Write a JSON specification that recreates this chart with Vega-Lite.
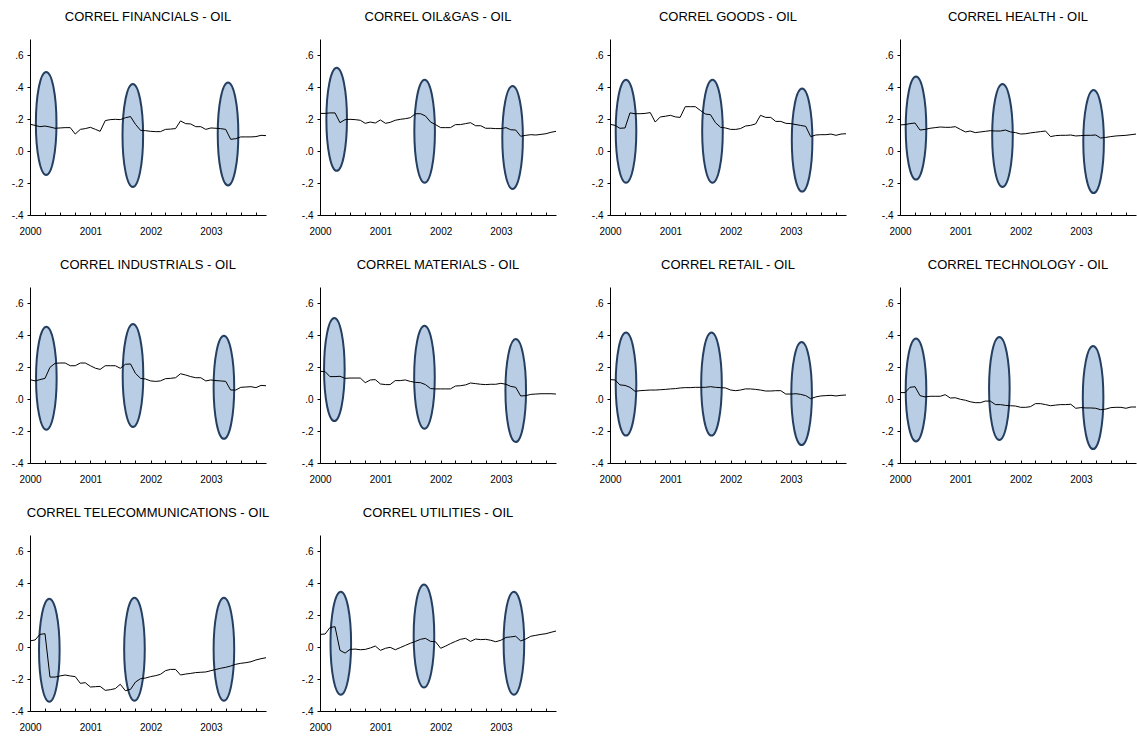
{
"$schema": "https://vega.github.io/schema/vega-lite/v6.json",
"padding": {"left": 11, "top": 11, "right": 0, "bottom": 0},
"bounds": "flush",
"data": {"format": {"parse": {"d": "utc:'%Y-%m-%d'"}}, "values": [
{"s":"FINANCIALS","d":"2000-01-01","v":0.167},{"s":"FINANCIALS","d":"2000-02-01","v":0.16},{"s":"FINANCIALS","d":"2000-03-01","v":0.152},{"s":"FINANCIALS","d":"2000-04-01","v":0.156},{"s":"FINANCIALS","d":"2000-05-01","v":0.15},{"s":"FINANCIALS","d":"2000-06-01","v":0.142},{"s":"FINANCIALS","d":"2000-07-01","v":0.144},{"s":"FINANCIALS","d":"2000-08-01","v":0.146},{"s":"FINANCIALS","d":"2000-09-01","v":0.146},{"s":"FINANCIALS","d":"2000-10-01","v":0.106},{"s":"FINANCIALS","d":"2000-11-01","v":0.135},{"s":"FINANCIALS","d":"2000-12-01","v":0.14},
{"s":"FINANCIALS","d":"2001-01-01","v":0.148},{"s":"FINANCIALS","d":"2001-02-01","v":0.135},{"s":"FINANCIALS","d":"2001-03-01","v":0.123},{"s":"FINANCIALS","d":"2001-04-01","v":0.19},{"s":"FINANCIALS","d":"2001-05-01","v":0.196},{"s":"FINANCIALS","d":"2001-06-01","v":0.198},{"s":"FINANCIALS","d":"2001-07-01","v":0.196},{"s":"FINANCIALS","d":"2001-08-01","v":0.208},{"s":"FINANCIALS","d":"2001-09-01","v":0.215},{"s":"FINANCIALS","d":"2001-10-01","v":0.167},{"s":"FINANCIALS","d":"2001-11-01","v":0.129},{"s":"FINANCIALS","d":"2001-12-01","v":0.127},
{"s":"FINANCIALS","d":"2002-01-01","v":0.123},{"s":"FINANCIALS","d":"2002-02-01","v":0.121},{"s":"FINANCIALS","d":"2002-03-01","v":0.121},{"s":"FINANCIALS","d":"2002-04-01","v":0.135},{"s":"FINANCIALS","d":"2002-05-01","v":0.137},{"s":"FINANCIALS","d":"2002-06-01","v":0.14},{"s":"FINANCIALS","d":"2002-07-01","v":0.188},{"s":"FINANCIALS","d":"2002-08-01","v":0.171},{"s":"FINANCIALS","d":"2002-09-01","v":0.169},{"s":"FINANCIALS","d":"2002-10-01","v":0.152},{"s":"FINANCIALS","d":"2002-11-01","v":0.152},{"s":"FINANCIALS","d":"2002-12-01","v":0.135},
{"s":"FINANCIALS","d":"2003-01-01","v":0.144},{"s":"FINANCIALS","d":"2003-02-01","v":0.142},{"s":"FINANCIALS","d":"2003-03-01","v":0.14},{"s":"FINANCIALS","d":"2003-04-01","v":0.135},{"s":"FINANCIALS","d":"2003-05-01","v":0.073},{"s":"FINANCIALS","d":"2003-06-01","v":0.077},{"s":"FINANCIALS","d":"2003-07-01","v":0.088},{"s":"FINANCIALS","d":"2003-08-01","v":0.088},{"s":"FINANCIALS","d":"2003-09-01","v":0.088},{"s":"FINANCIALS","d":"2003-10-01","v":0.09},{"s":"FINANCIALS","d":"2003-11-01","v":0.098},{"s":"FINANCIALS","d":"2003-12-01","v":0.096},

{"s":"OIL&GAS","d":"2000-01-01","v":0.235},{"s":"OIL&GAS","d":"2000-02-01","v":0.235},{"s":"OIL&GAS","d":"2000-03-01","v":0.238},{"s":"OIL&GAS","d":"2000-04-01","v":0.238},{"s":"OIL&GAS","d":"2000-05-01","v":0.177},{"s":"OIL&GAS","d":"2000-06-01","v":0.196},{"s":"OIL&GAS","d":"2000-07-01","v":0.198},{"s":"OIL&GAS","d":"2000-08-01","v":0.196},{"s":"OIL&GAS","d":"2000-09-01","v":0.192},{"s":"OIL&GAS","d":"2000-10-01","v":0.173},{"s":"OIL&GAS","d":"2000-11-01","v":0.181},{"s":"OIL&GAS","d":"2000-12-01","v":0.175},
{"s":"OIL&GAS","d":"2001-01-01","v":0.194},{"s":"OIL&GAS","d":"2001-02-01","v":0.173},{"s":"OIL&GAS","d":"2001-03-01","v":0.179},{"s":"OIL&GAS","d":"2001-04-01","v":0.192},{"s":"OIL&GAS","d":"2001-05-01","v":0.198},{"s":"OIL&GAS","d":"2001-06-01","v":0.202},{"s":"OIL&GAS","d":"2001-07-01","v":0.208},{"s":"OIL&GAS","d":"2001-08-01","v":0.233},{"s":"OIL&GAS","d":"2001-09-01","v":0.233},{"s":"OIL&GAS","d":"2001-10-01","v":0.219},{"s":"OIL&GAS","d":"2001-11-01","v":0.181},{"s":"OIL&GAS","d":"2001-12-01","v":0.165},
{"s":"OIL&GAS","d":"2002-01-01","v":0.146},{"s":"OIL&GAS","d":"2002-02-01","v":0.146},{"s":"OIL&GAS","d":"2002-03-01","v":0.146},{"s":"OIL&GAS","d":"2002-04-01","v":0.165},{"s":"OIL&GAS","d":"2002-05-01","v":0.165},{"s":"OIL&GAS","d":"2002-06-01","v":0.171},{"s":"OIL&GAS","d":"2002-07-01","v":0.177},{"s":"OIL&GAS","d":"2002-08-01","v":0.158},{"s":"OIL&GAS","d":"2002-09-01","v":0.158},{"s":"OIL&GAS","d":"2002-10-01","v":0.142},{"s":"OIL&GAS","d":"2002-11-01","v":0.142},{"s":"OIL&GAS","d":"2002-12-01","v":0.14},
{"s":"OIL&GAS","d":"2003-01-01","v":0.14},{"s":"OIL&GAS","d":"2003-02-01","v":0.146},{"s":"OIL&GAS","d":"2003-03-01","v":0.133},{"s":"OIL&GAS","d":"2003-04-01","v":0.131},{"s":"OIL&GAS","d":"2003-05-01","v":0.092},{"s":"OIL&GAS","d":"2003-06-01","v":0.098},{"s":"OIL&GAS","d":"2003-07-01","v":0.102},{"s":"OIL&GAS","d":"2003-08-01","v":0.1},{"s":"OIL&GAS","d":"2003-09-01","v":0.104},{"s":"OIL&GAS","d":"2003-10-01","v":0.108},{"s":"OIL&GAS","d":"2003-11-01","v":0.117},{"s":"OIL&GAS","d":"2003-12-01","v":0.123},

{"s":"GOODS","d":"2000-01-01","v":0.167},{"s":"GOODS","d":"2000-02-01","v":0.16},{"s":"GOODS","d":"2000-03-01","v":0.142},{"s":"GOODS","d":"2000-04-01","v":0.144},{"s":"GOODS","d":"2000-05-01","v":0.238},{"s":"GOODS","d":"2000-06-01","v":0.233},{"s":"GOODS","d":"2000-07-01","v":0.233},{"s":"GOODS","d":"2000-08-01","v":0.235},{"s":"GOODS","d":"2000-09-01","v":0.24},{"s":"GOODS","d":"2000-10-01","v":0.181},{"s":"GOODS","d":"2000-11-01","v":0.213},{"s":"GOODS","d":"2000-12-01","v":0.217},
{"s":"GOODS","d":"2001-01-01","v":0.223},{"s":"GOODS","d":"2001-02-01","v":0.213},{"s":"GOODS","d":"2001-03-01","v":0.21},{"s":"GOODS","d":"2001-04-01","v":0.277},{"s":"GOODS","d":"2001-05-01","v":0.277},{"s":"GOODS","d":"2001-06-01","v":0.277},{"s":"GOODS","d":"2001-07-01","v":0.254},{"s":"GOODS","d":"2001-08-01","v":0.231},{"s":"GOODS","d":"2001-09-01","v":0.227},{"s":"GOODS","d":"2001-10-01","v":0.177},{"s":"GOODS","d":"2001-11-01","v":0.148},{"s":"GOODS","d":"2001-12-01","v":0.144},
{"s":"GOODS","d":"2002-01-01","v":0.135},{"s":"GOODS","d":"2002-02-01","v":0.135},{"s":"GOODS","d":"2002-03-01","v":0.14},{"s":"GOODS","d":"2002-04-01","v":0.156},{"s":"GOODS","d":"2002-05-01","v":0.16},{"s":"GOODS","d":"2002-06-01","v":0.169},{"s":"GOODS","d":"2002-07-01","v":0.223},{"s":"GOODS","d":"2002-08-01","v":0.21},{"s":"GOODS","d":"2002-09-01","v":0.21},{"s":"GOODS","d":"2002-10-01","v":0.185},{"s":"GOODS","d":"2002-11-01","v":0.185},{"s":"GOODS","d":"2002-12-01","v":0.173},
{"s":"GOODS","d":"2003-01-01","v":0.171},{"s":"GOODS","d":"2003-02-01","v":0.165},{"s":"GOODS","d":"2003-03-01","v":0.16},{"s":"GOODS","d":"2003-04-01","v":0.154},{"s":"GOODS","d":"2003-05-01","v":0.09},{"s":"GOODS","d":"2003-06-01","v":0.1},{"s":"GOODS","d":"2003-07-01","v":0.102},{"s":"GOODS","d":"2003-08-01","v":0.102},{"s":"GOODS","d":"2003-09-01","v":0.106},{"s":"GOODS","d":"2003-10-01","v":0.098},{"s":"GOODS","d":"2003-11-01","v":0.106},{"s":"GOODS","d":"2003-12-01","v":0.108},

{"s":"HEALTH","d":"2000-01-01","v":0.163},{"s":"HEALTH","d":"2000-02-01","v":0.165},{"s":"HEALTH","d":"2000-03-01","v":0.171},{"s":"HEALTH","d":"2000-04-01","v":0.175},{"s":"HEALTH","d":"2000-05-01","v":0.131},{"s":"HEALTH","d":"2000-06-01","v":0.135},{"s":"HEALTH","d":"2000-07-01","v":0.142},{"s":"HEALTH","d":"2000-08-01","v":0.146},{"s":"HEALTH","d":"2000-09-01","v":0.15},{"s":"HEALTH","d":"2000-10-01","v":0.148},{"s":"HEALTH","d":"2000-11-01","v":0.148},{"s":"HEALTH","d":"2000-12-01","v":0.152},
{"s":"HEALTH","d":"2001-01-01","v":0.135},{"s":"HEALTH","d":"2001-02-01","v":0.119},{"s":"HEALTH","d":"2001-03-01","v":0.125},{"s":"HEALTH","d":"2001-04-01","v":0.115},{"s":"HEALTH","d":"2001-05-01","v":0.119},{"s":"HEALTH","d":"2001-06-01","v":0.123},{"s":"HEALTH","d":"2001-07-01","v":0.127},{"s":"HEALTH","d":"2001-08-01","v":0.125},{"s":"HEALTH","d":"2001-09-01","v":0.125},{"s":"HEALTH","d":"2001-10-01","v":0.131},{"s":"HEALTH","d":"2001-11-01","v":0.119},{"s":"HEALTH","d":"2001-12-01","v":0.115},
{"s":"HEALTH","d":"2002-01-01","v":0.106},{"s":"HEALTH","d":"2002-02-01","v":0.108},{"s":"HEALTH","d":"2002-03-01","v":0.113},{"s":"HEALTH","d":"2002-04-01","v":0.117},{"s":"HEALTH","d":"2002-05-01","v":0.121},{"s":"HEALTH","d":"2002-06-01","v":0.125},{"s":"HEALTH","d":"2002-07-01","v":0.09},{"s":"HEALTH","d":"2002-08-01","v":0.096},{"s":"HEALTH","d":"2002-09-01","v":0.098},{"s":"HEALTH","d":"2002-10-01","v":0.098},{"s":"HEALTH","d":"2002-11-01","v":0.1},{"s":"HEALTH","d":"2002-12-01","v":0.094},
{"s":"HEALTH","d":"2003-01-01","v":0.096},{"s":"HEALTH","d":"2003-02-01","v":0.098},{"s":"HEALTH","d":"2003-03-01","v":0.098},{"s":"HEALTH","d":"2003-04-01","v":0.1},{"s":"HEALTH","d":"2003-05-01","v":0.081},{"s":"HEALTH","d":"2003-06-01","v":0.085},{"s":"HEALTH","d":"2003-07-01","v":0.09},{"s":"HEALTH","d":"2003-08-01","v":0.094},{"s":"HEALTH","d":"2003-09-01","v":0.096},{"s":"HEALTH","d":"2003-10-01","v":0.098},{"s":"HEALTH","d":"2003-11-01","v":0.102},{"s":"HEALTH","d":"2003-12-01","v":0.106},

{"s":"INDUSTRIALS","d":"2000-01-01","v":0.121},{"s":"INDUSTRIALS","d":"2000-02-01","v":0.113},{"s":"INDUSTRIALS","d":"2000-03-01","v":0.121},{"s":"INDUSTRIALS","d":"2000-04-01","v":0.129},{"s":"INDUSTRIALS","d":"2000-05-01","v":0.198},{"s":"INDUSTRIALS","d":"2000-06-01","v":0.223},{"s":"INDUSTRIALS","d":"2000-07-01","v":0.225},{"s":"INDUSTRIALS","d":"2000-08-01","v":0.225},{"s":"INDUSTRIALS","d":"2000-09-01","v":0.208},{"s":"INDUSTRIALS","d":"2000-10-01","v":0.208},{"s":"INDUSTRIALS","d":"2000-11-01","v":0.225},{"s":"INDUSTRIALS","d":"2000-12-01","v":0.225},
{"s":"INDUSTRIALS","d":"2001-01-01","v":0.208},{"s":"INDUSTRIALS","d":"2001-02-01","v":0.192},{"s":"INDUSTRIALS","d":"2001-03-01","v":0.185},{"s":"INDUSTRIALS","d":"2001-04-01","v":0.208},{"s":"INDUSTRIALS","d":"2001-05-01","v":0.208},{"s":"INDUSTRIALS","d":"2001-06-01","v":0.208},{"s":"INDUSTRIALS","d":"2001-07-01","v":0.192},{"s":"INDUSTRIALS","d":"2001-08-01","v":0.217},{"s":"INDUSTRIALS","d":"2001-09-01","v":0.219},{"s":"INDUSTRIALS","d":"2001-10-01","v":0.16},{"s":"INDUSTRIALS","d":"2001-11-01","v":0.129},{"s":"INDUSTRIALS","d":"2001-12-01","v":0.125},
{"s":"INDUSTRIALS","d":"2002-01-01","v":0.113},{"s":"INDUSTRIALS","d":"2002-02-01","v":0.11},{"s":"INDUSTRIALS","d":"2002-03-01","v":0.113},{"s":"INDUSTRIALS","d":"2002-04-01","v":0.127},{"s":"INDUSTRIALS","d":"2002-05-01","v":0.129},{"s":"INDUSTRIALS","d":"2002-06-01","v":0.133},{"s":"INDUSTRIALS","d":"2002-07-01","v":0.158},{"s":"INDUSTRIALS","d":"2002-08-01","v":0.15},{"s":"INDUSTRIALS","d":"2002-09-01","v":0.14},{"s":"INDUSTRIALS","d":"2002-10-01","v":0.133},{"s":"INDUSTRIALS","d":"2002-11-01","v":0.133},{"s":"INDUSTRIALS","d":"2002-12-01","v":0.113},
{"s":"INDUSTRIALS","d":"2003-01-01","v":0.119},{"s":"INDUSTRIALS","d":"2003-02-01","v":0.115},{"s":"INDUSTRIALS","d":"2003-03-01","v":0.113},{"s":"INDUSTRIALS","d":"2003-04-01","v":0.11},{"s":"INDUSTRIALS","d":"2003-05-01","v":0.056},{"s":"INDUSTRIALS","d":"2003-06-01","v":0.056},{"s":"INDUSTRIALS","d":"2003-07-01","v":0.073},{"s":"INDUSTRIALS","d":"2003-08-01","v":0.075},{"s":"INDUSTRIALS","d":"2003-09-01","v":0.077},{"s":"INDUSTRIALS","d":"2003-10-01","v":0.071},{"s":"INDUSTRIALS","d":"2003-11-01","v":0.085},{"s":"INDUSTRIALS","d":"2003-12-01","v":0.083},

{"s":"MATERIALS","d":"2000-01-01","v":0.173},{"s":"MATERIALS","d":"2000-02-01","v":0.171},{"s":"MATERIALS","d":"2000-03-01","v":0.14},{"s":"MATERIALS","d":"2000-04-01","v":0.14},{"s":"MATERIALS","d":"2000-05-01","v":0.142},{"s":"MATERIALS","d":"2000-06-01","v":0.129},{"s":"MATERIALS","d":"2000-07-01","v":0.131},{"s":"MATERIALS","d":"2000-08-01","v":0.131},{"s":"MATERIALS","d":"2000-09-01","v":0.131},{"s":"MATERIALS","d":"2000-10-01","v":0.102},{"s":"MATERIALS","d":"2000-11-01","v":0.119},{"s":"MATERIALS","d":"2000-12-01","v":0.121},
{"s":"MATERIALS","d":"2001-01-01","v":0.094},{"s":"MATERIALS","d":"2001-02-01","v":0.09},{"s":"MATERIALS","d":"2001-03-01","v":0.09},{"s":"MATERIALS","d":"2001-04-01","v":0.115},{"s":"MATERIALS","d":"2001-05-01","v":0.115},{"s":"MATERIALS","d":"2001-06-01","v":0.119},{"s":"MATERIALS","d":"2001-07-01","v":0.11},{"s":"MATERIALS","d":"2001-08-01","v":0.104},{"s":"MATERIALS","d":"2001-09-01","v":0.102},{"s":"MATERIALS","d":"2001-10-01","v":0.09},{"s":"MATERIALS","d":"2001-11-01","v":0.065},{"s":"MATERIALS","d":"2001-12-01","v":0.063},
{"s":"MATERIALS","d":"2002-01-01","v":0.063},{"s":"MATERIALS","d":"2002-02-01","v":0.063},{"s":"MATERIALS","d":"2002-03-01","v":0.063},{"s":"MATERIALS","d":"2002-04-01","v":0.081},{"s":"MATERIALS","d":"2002-05-01","v":0.083},{"s":"MATERIALS","d":"2002-06-01","v":0.088},{"s":"MATERIALS","d":"2002-07-01","v":0.1},{"s":"MATERIALS","d":"2002-08-01","v":0.096},{"s":"MATERIALS","d":"2002-09-01","v":0.092},{"s":"MATERIALS","d":"2002-10-01","v":0.09},{"s":"MATERIALS","d":"2002-11-01","v":0.092},{"s":"MATERIALS","d":"2002-12-01","v":0.092},
{"s":"MATERIALS","d":"2003-01-01","v":0.098},{"s":"MATERIALS","d":"2003-02-01","v":0.092},{"s":"MATERIALS","d":"2003-03-01","v":0.079},{"s":"MATERIALS","d":"2003-04-01","v":0.073},{"s":"MATERIALS","d":"2003-05-01","v":0.019},{"s":"MATERIALS","d":"2003-06-01","v":0.021},{"s":"MATERIALS","d":"2003-07-01","v":0.029},{"s":"MATERIALS","d":"2003-08-01","v":0.031},{"s":"MATERIALS","d":"2003-09-01","v":0.033},{"s":"MATERIALS","d":"2003-10-01","v":0.033},{"s":"MATERIALS","d":"2003-11-01","v":0.033},{"s":"MATERIALS","d":"2003-12-01","v":0.031},

{"s":"RETAIL","d":"2000-01-01","v":0.121},{"s":"RETAIL","d":"2000-02-01","v":0.119},{"s":"RETAIL","d":"2000-03-01","v":0.088},{"s":"RETAIL","d":"2000-04-01","v":0.085},{"s":"RETAIL","d":"2000-05-01","v":0.073},{"s":"RETAIL","d":"2000-06-01","v":0.048},{"s":"RETAIL","d":"2000-07-01","v":0.052},{"s":"RETAIL","d":"2000-08-01","v":0.054},{"s":"RETAIL","d":"2000-09-01","v":0.056},{"s":"RETAIL","d":"2000-10-01","v":0.056},{"s":"RETAIL","d":"2000-11-01","v":0.058},{"s":"RETAIL","d":"2000-12-01","v":0.06},
{"s":"RETAIL","d":"2001-01-01","v":0.063},{"s":"RETAIL","d":"2001-02-01","v":0.065},{"s":"RETAIL","d":"2001-03-01","v":0.069},{"s":"RETAIL","d":"2001-04-01","v":0.071},{"s":"RETAIL","d":"2001-05-01","v":0.071},{"s":"RETAIL","d":"2001-06-01","v":0.073},{"s":"RETAIL","d":"2001-07-01","v":0.073},{"s":"RETAIL","d":"2001-08-01","v":0.073},{"s":"RETAIL","d":"2001-09-01","v":0.077},{"s":"RETAIL","d":"2001-10-01","v":0.073},{"s":"RETAIL","d":"2001-11-01","v":0.071},{"s":"RETAIL","d":"2001-12-01","v":0.069},
{"s":"RETAIL","d":"2002-01-01","v":0.056},{"s":"RETAIL","d":"2002-02-01","v":0.052},{"s":"RETAIL","d":"2002-03-01","v":0.056},{"s":"RETAIL","d":"2002-04-01","v":0.063},{"s":"RETAIL","d":"2002-05-01","v":0.063},{"s":"RETAIL","d":"2002-06-01","v":0.06},{"s":"RETAIL","d":"2002-07-01","v":0.056},{"s":"RETAIL","d":"2002-08-01","v":0.05},{"s":"RETAIL","d":"2002-09-01","v":0.05},{"s":"RETAIL","d":"2002-10-01","v":0.052},{"s":"RETAIL","d":"2002-11-01","v":0.052},{"s":"RETAIL","d":"2002-12-01","v":0.031},
{"s":"RETAIL","d":"2003-01-01","v":0.031},{"s":"RETAIL","d":"2003-02-01","v":0.033},{"s":"RETAIL","d":"2003-03-01","v":0.029},{"s":"RETAIL","d":"2003-04-01","v":0.021},{"s":"RETAIL","d":"2003-05-01","v":0.002},{"s":"RETAIL","d":"2003-06-01","v":0.013},{"s":"RETAIL","d":"2003-07-01","v":0.019},{"s":"RETAIL","d":"2003-08-01","v":0.021},{"s":"RETAIL","d":"2003-09-01","v":0.023},{"s":"RETAIL","d":"2003-10-01","v":0.019},{"s":"RETAIL","d":"2003-11-01","v":0.023},{"s":"RETAIL","d":"2003-12-01","v":0.025},

{"s":"TECHNOLOGY","d":"2000-01-01","v":0.04},{"s":"TECHNOLOGY","d":"2000-02-01","v":0.04},{"s":"TECHNOLOGY","d":"2000-03-01","v":0.073},{"s":"TECHNOLOGY","d":"2000-04-01","v":0.077},{"s":"TECHNOLOGY","d":"2000-05-01","v":0.021},{"s":"TECHNOLOGY","d":"2000-06-01","v":0.013},{"s":"TECHNOLOGY","d":"2000-07-01","v":0.017},{"s":"TECHNOLOGY","d":"2000-08-01","v":0.017},{"s":"TECHNOLOGY","d":"2000-09-01","v":0.017},{"s":"TECHNOLOGY","d":"2000-10-01","v":0.027},{"s":"TECHNOLOGY","d":"2000-11-01","v":0.006},{"s":"TECHNOLOGY","d":"2000-12-01","v":0.008},
{"s":"TECHNOLOGY","d":"2001-01-01","v":-0.002},{"s":"TECHNOLOGY","d":"2001-02-01","v":-0.008},{"s":"TECHNOLOGY","d":"2001-03-01","v":-0.017},{"s":"TECHNOLOGY","d":"2001-04-01","v":-0.023},{"s":"TECHNOLOGY","d":"2001-05-01","v":-0.023},{"s":"TECHNOLOGY","d":"2001-06-01","v":-0.013},{"s":"TECHNOLOGY","d":"2001-07-01","v":-0.013},{"s":"TECHNOLOGY","d":"2001-08-01","v":-0.035},{"s":"TECHNOLOGY","d":"2001-09-01","v":-0.035},{"s":"TECHNOLOGY","d":"2001-10-01","v":-0.04},{"s":"TECHNOLOGY","d":"2001-11-01","v":-0.042},{"s":"TECHNOLOGY","d":"2001-12-01","v":-0.044},
{"s":"TECHNOLOGY","d":"2002-01-01","v":-0.052},{"s":"TECHNOLOGY","d":"2002-02-01","v":-0.052},{"s":"TECHNOLOGY","d":"2002-03-01","v":-0.048},{"s":"TECHNOLOGY","d":"2002-04-01","v":-0.029},{"s":"TECHNOLOGY","d":"2002-05-01","v":-0.029},{"s":"TECHNOLOGY","d":"2002-06-01","v":-0.035},{"s":"TECHNOLOGY","d":"2002-07-01","v":-0.042},{"s":"TECHNOLOGY","d":"2002-08-01","v":-0.038},{"s":"TECHNOLOGY","d":"2002-09-01","v":-0.035},{"s":"TECHNOLOGY","d":"2002-10-01","v":-0.035},{"s":"TECHNOLOGY","d":"2002-11-01","v":-0.033},{"s":"TECHNOLOGY","d":"2002-12-01","v":-0.058},
{"s":"TECHNOLOGY","d":"2003-01-01","v":-0.054},{"s":"TECHNOLOGY","d":"2003-02-01","v":-0.056},{"s":"TECHNOLOGY","d":"2003-03-01","v":-0.056},{"s":"TECHNOLOGY","d":"2003-04-01","v":-0.058},{"s":"TECHNOLOGY","d":"2003-05-01","v":-0.067},{"s":"TECHNOLOGY","d":"2003-06-01","v":-0.063},{"s":"TECHNOLOGY","d":"2003-07-01","v":-0.054},{"s":"TECHNOLOGY","d":"2003-08-01","v":-0.052},{"s":"TECHNOLOGY","d":"2003-09-01","v":-0.052},{"s":"TECHNOLOGY","d":"2003-10-01","v":-0.058},{"s":"TECHNOLOGY","d":"2003-11-01","v":-0.05},{"s":"TECHNOLOGY","d":"2003-12-01","v":-0.05},

{"s":"TELECOMMUNICATIONS","d":"2000-01-01","v":0.038},{"s":"TELECOMMUNICATIONS","d":"2000-02-01","v":0.044},{"s":"TELECOMMUNICATIONS","d":"2000-03-01","v":0.079},{"s":"TELECOMMUNICATIONS","d":"2000-04-01","v":0.083},{"s":"TELECOMMUNICATIONS","d":"2000-05-01","v":-0.188},{"s":"TELECOMMUNICATIONS","d":"2000-06-01","v":-0.188},{"s":"TELECOMMUNICATIONS","d":"2000-07-01","v":-0.181},{"s":"TELECOMMUNICATIONS","d":"2000-08-01","v":-0.175},{"s":"TELECOMMUNICATIONS","d":"2000-09-01","v":-0.181},{"s":"TELECOMMUNICATIONS","d":"2000-10-01","v":-0.185},{"s":"TELECOMMUNICATIONS","d":"2000-11-01","v":-0.227},{"s":"TELECOMMUNICATIONS","d":"2000-12-01","v":-0.223},
{"s":"TELECOMMUNICATIONS","d":"2001-01-01","v":-0.25},{"s":"TELECOMMUNICATIONS","d":"2001-02-01","v":-0.248},{"s":"TELECOMMUNICATIONS","d":"2001-03-01","v":-0.246},{"s":"TELECOMMUNICATIONS","d":"2001-04-01","v":-0.271},{"s":"TELECOMMUNICATIONS","d":"2001-05-01","v":-0.267},{"s":"TELECOMMUNICATIONS","d":"2001-06-01","v":-0.26},{"s":"TELECOMMUNICATIONS","d":"2001-07-01","v":-0.233},{"s":"TELECOMMUNICATIONS","d":"2001-08-01","v":-0.273},{"s":"TELECOMMUNICATIONS","d":"2001-09-01","v":-0.265},{"s":"TELECOMMUNICATIONS","d":"2001-10-01","v":-0.219},{"s":"TELECOMMUNICATIONS","d":"2001-11-01","v":-0.198},{"s":"TELECOMMUNICATIONS","d":"2001-12-01","v":-0.194},
{"s":"TELECOMMUNICATIONS","d":"2002-01-01","v":-0.185},{"s":"TELECOMMUNICATIONS","d":"2002-02-01","v":-0.179},{"s":"TELECOMMUNICATIONS","d":"2002-03-01","v":-0.171},{"s":"TELECOMMUNICATIONS","d":"2002-04-01","v":-0.148},{"s":"TELECOMMUNICATIONS","d":"2002-05-01","v":-0.14},{"s":"TELECOMMUNICATIONS","d":"2002-06-01","v":-0.14},{"s":"TELECOMMUNICATIONS","d":"2002-07-01","v":-0.175},{"s":"TELECOMMUNICATIONS","d":"2002-08-01","v":-0.169},{"s":"TELECOMMUNICATIONS","d":"2002-09-01","v":-0.165},{"s":"TELECOMMUNICATIONS","d":"2002-10-01","v":-0.16},{"s":"TELECOMMUNICATIONS","d":"2002-11-01","v":-0.158},{"s":"TELECOMMUNICATIONS","d":"2002-12-01","v":-0.156},
{"s":"TELECOMMUNICATIONS","d":"2003-01-01","v":-0.148},{"s":"TELECOMMUNICATIONS","d":"2003-02-01","v":-0.14},{"s":"TELECOMMUNICATIONS","d":"2003-03-01","v":-0.133},{"s":"TELECOMMUNICATIONS","d":"2003-04-01","v":-0.127},{"s":"TELECOMMUNICATIONS","d":"2003-05-01","v":-0.119},{"s":"TELECOMMUNICATIONS","d":"2003-06-01","v":-0.108},{"s":"TELECOMMUNICATIONS","d":"2003-07-01","v":-0.102},{"s":"TELECOMMUNICATIONS","d":"2003-08-01","v":-0.098},{"s":"TELECOMMUNICATIONS","d":"2003-09-01","v":-0.092},{"s":"TELECOMMUNICATIONS","d":"2003-10-01","v":-0.081},{"s":"TELECOMMUNICATIONS","d":"2003-11-01","v":-0.073},{"s":"TELECOMMUNICATIONS","d":"2003-12-01","v":-0.067},

{"s":"UTILITIES","d":"2000-01-01","v":0.079},{"s":"UTILITIES","d":"2000-02-01","v":0.081},{"s":"UTILITIES","d":"2000-03-01","v":0.121},{"s":"UTILITIES","d":"2000-04-01","v":0.127},{"s":"UTILITIES","d":"2000-05-01","v":-0.021},{"s":"UTILITIES","d":"2000-06-01","v":-0.038},{"s":"UTILITIES","d":"2000-07-01","v":-0.015},{"s":"UTILITIES","d":"2000-08-01","v":-0.013},{"s":"UTILITIES","d":"2000-09-01","v":-0.017},{"s":"UTILITIES","d":"2000-10-01","v":-0.015},{"s":"UTILITIES","d":"2000-11-01","v":-0.006},{"s":"UTILITIES","d":"2000-12-01","v":0.006},
{"s":"UTILITIES","d":"2001-01-01","v":-0.021},{"s":"UTILITIES","d":"2001-02-01","v":-0.008},{"s":"UTILITIES","d":"2001-03-01","v":-0.002},{"s":"UTILITIES","d":"2001-04-01","v":-0.017},{"s":"UTILITIES","d":"2001-05-01","v":-0.004},{"s":"UTILITIES","d":"2001-06-01","v":0.01},{"s":"UTILITIES","d":"2001-07-01","v":0.023},{"s":"UTILITIES","d":"2001-08-01","v":0.035},{"s":"UTILITIES","d":"2001-09-01","v":0.048},{"s":"UTILITIES","d":"2001-10-01","v":0.054},{"s":"UTILITIES","d":"2001-11-01","v":0.035},{"s":"UTILITIES","d":"2001-12-01","v":0.033},
{"s":"UTILITIES","d":"2002-01-01","v":-0.008},{"s":"UTILITIES","d":"2002-02-01","v":0.006},{"s":"UTILITIES","d":"2002-03-01","v":0.021},{"s":"UTILITIES","d":"2002-04-01","v":0.035},{"s":"UTILITIES","d":"2002-05-01","v":0.048},{"s":"UTILITIES","d":"2002-06-01","v":0.054},{"s":"UTILITIES","d":"2002-07-01","v":0.035},{"s":"UTILITIES","d":"2002-08-01","v":0.05},{"s":"UTILITIES","d":"2002-09-01","v":0.046},{"s":"UTILITIES","d":"2002-10-01","v":0.048},{"s":"UTILITIES","d":"2002-11-01","v":0.042},{"s":"UTILITIES","d":"2002-12-01","v":0.033},
{"s":"UTILITIES","d":"2003-01-01","v":0.042},{"s":"UTILITIES","d":"2003-02-01","v":0.06},{"s":"UTILITIES","d":"2003-03-01","v":0.063},{"s":"UTILITIES","d":"2003-04-01","v":0.067},{"s":"UTILITIES","d":"2003-05-01","v":0.038},{"s":"UTILITIES","d":"2003-06-01","v":0.05},{"s":"UTILITIES","d":"2003-07-01","v":0.067},{"s":"UTILITIES","d":"2003-08-01","v":0.073},{"s":"UTILITIES","d":"2003-09-01","v":0.079},{"s":"UTILITIES","d":"2003-10-01","v":0.083},{"s":"UTILITIES","d":"2003-11-01","v":0.092},{"s":"UTILITIES","d":"2003-12-01","v":0.1},

{"s":"FINANCIALS","d":"2000-04-08","v":0.172,"k":"e"},{"s":"FINANCIALS","d":"2001-09-15","v":0.097,"k":"e"},{"s":"FINANCIALS","d":"2003-04-15","v":0.107,"k":"e"},
{"s":"OIL&GAS","d":"2000-04-11","v":0.198,"k":"e"},{"s":"OIL&GAS","d":"2001-09-26","v":0.124,"k":"e"},{"s":"OIL&GAS","d":"2003-03-13","v":0.085,"k":"e"},
{"s":"GOODS","d":"2000-04-07","v":0.124,"k":"e"},{"s":"GOODS","d":"2001-09-13","v":0.124,"k":"e"},{"s":"GOODS","d":"2003-03-10","v":0.068,"k":"e"},
{"s":"HEALTH","d":"2000-04-07","v":0.143,"k":"e"},{"s":"HEALTH","d":"2001-09-13","v":0.097,"k":"e"},{"s":"HEALTH","d":"2003-03-19","v":0.059,"k":"e"},
{"s":"INDUSTRIALS","d":"2000-04-09","v":0.13,"k":"e"},{"s":"INDUSTRIALS","d":"2001-09-16","v":0.147,"k":"e"},{"s":"INDUSTRIALS","d":"2003-03-21","v":0.073,"k":"e"},
{"s":"MATERIALS","d":"2000-03-28","v":0.184,"k":"e"},{"s":"MATERIALS","d":"2001-09-25","v":0.136,"k":"e"},{"s":"MATERIALS","d":"2003-04-01","v":0.053,"k":"e"},
{"s":"RETAIL","d":"2000-04-07","v":0.093,"k":"e"},{"s":"RETAIL","d":"2001-09-07","v":0.093,"k":"e"},{"s":"RETAIL","d":"2003-03-07","v":0.034,"k":"e"},
{"s":"TECHNOLOGY","d":"2000-04-07","v":0.057,"k":"e"},{"s":"TECHNOLOGY","d":"2001-08-25","v":0.066,"k":"e"},{"s":"TECHNOLOGY","d":"2003-03-16","v":0.009,"k":"e"},
{"s":"TELECOMMUNICATIONS","d":"2000-04-27","v":-0.02,"k":"e"},{"s":"TELECOMMUNICATIONS","d":"2001-09-25","v":-0.014,"k":"e"},{"s":"TELECOMMUNICATIONS","d":"2003-03-21","v":-0.014,"k":"e"},
{"s":"UTILITIES","d":"2000-05-06","v":0.024,"k":"e"},{"s":"UTILITIES","d":"2001-09-22","v":0.069,"k":"e"},{"s":"UTILITIES","d":"2003-03-21","v":0.024,"k":"e"}
]},
"facet": {
  "field": "s", "type": "nominal",
  "sort": ["FINANCIALS","OIL&GAS","GOODS","HEALTH","INDUSTRIALS","MATERIALS","RETAIL","TECHNOLOGY","TELECOMMUNICATIONS","UTILITIES"],
  "header": {"title": null, "labelExpr": "'CORREL ' + datum.value + ' - OIL'", "labelFont": "Liberation Sans", "labelFontSize": 13, "labelColor": "#000000", "labelPadding": 15}
},
"columns": 4,
"spacing": {"row": 72, "column": 54},
"resolve": {"axis": {"x": "independent", "y": "independent"}},
"spec": {
  "width": 236,
  "height": 176,
  "encoding": {
    "x": {"field": "d", "type": "temporal",
      "scale": {"type": "utc", "domain": [{"year": 2000, "month": 1, "date": 1, "utc": true}, {"year": 2003, "month": 12, "date": 1, "utc": true}], "nice": false},
      "axis": {"title": null, "tickCount": {"interval": "month", "step": 3}, "labelExpr": "utcmonth(datum.value) == 0 ? utcFormat(datum.value, '%Y') : ''", "tickSize": -3, "labelPadding": 14, "labelFlush": false, "labelOverlap": false, "grid": false}
    },
    "y": {"field": "v", "type": "quantitative",
      "scale": {"domain": [-0.4, 0.7], "nice": false, "zero": false},
      "axis": {"title": null, "values": [-0.4, -0.2, 0, 0.2, 0.4, 0.6], "labelExpr": "datum.value < 0 ? '-' + replace(format(-datum.value, '.1f'), '0.', '.') : replace(format(datum.value, '.1f'), '0.', '.')", "tickSize": 3, "labelPadding": 4, "labelFlush": false, "labelOverlap": false, "labelBound": false, "grid": false}
    }
  },
  "layer": [
    {
      "transform": [{"filter": "datum.k == 'e'"}],
      "mark": {"type": "point", "shape": "M0,-1C0.1105,-1 0.2,-0.5523 0.2,0C0.2,0.5523 0.1105,1 0,1C-0.1105,1 -0.2,0.5523 -0.2,0C-0.2,-0.5523 -0.1105,-1 0,-1Z", "size": 10609, "filled": true, "fill": "#b9cde5", "stroke": "#243f60", "strokeWidth": 2, "opacity": 1, "fillOpacity": 1, "strokeOpacity": 1}
    },
    {
      "transform": [{"filter": "datum.k != 'e'"}],
      "mark": {"type": "line", "color": "#000000", "strokeWidth": 1}
    }
  ]
},
"config": {
  "view": {"stroke": null},
  "font": "Liberation Sans",
  "axis": {"domainColor": "#000000", "tickColor": "#000000", "labelColor": "#000000", "labelFont": "Liberation Sans", "labelFontSize": 10, "domainWidth": 1, "tickWidth": 1, "labelOverlap": false},
  "axisY": {"labelOverlap": false}
}
}
